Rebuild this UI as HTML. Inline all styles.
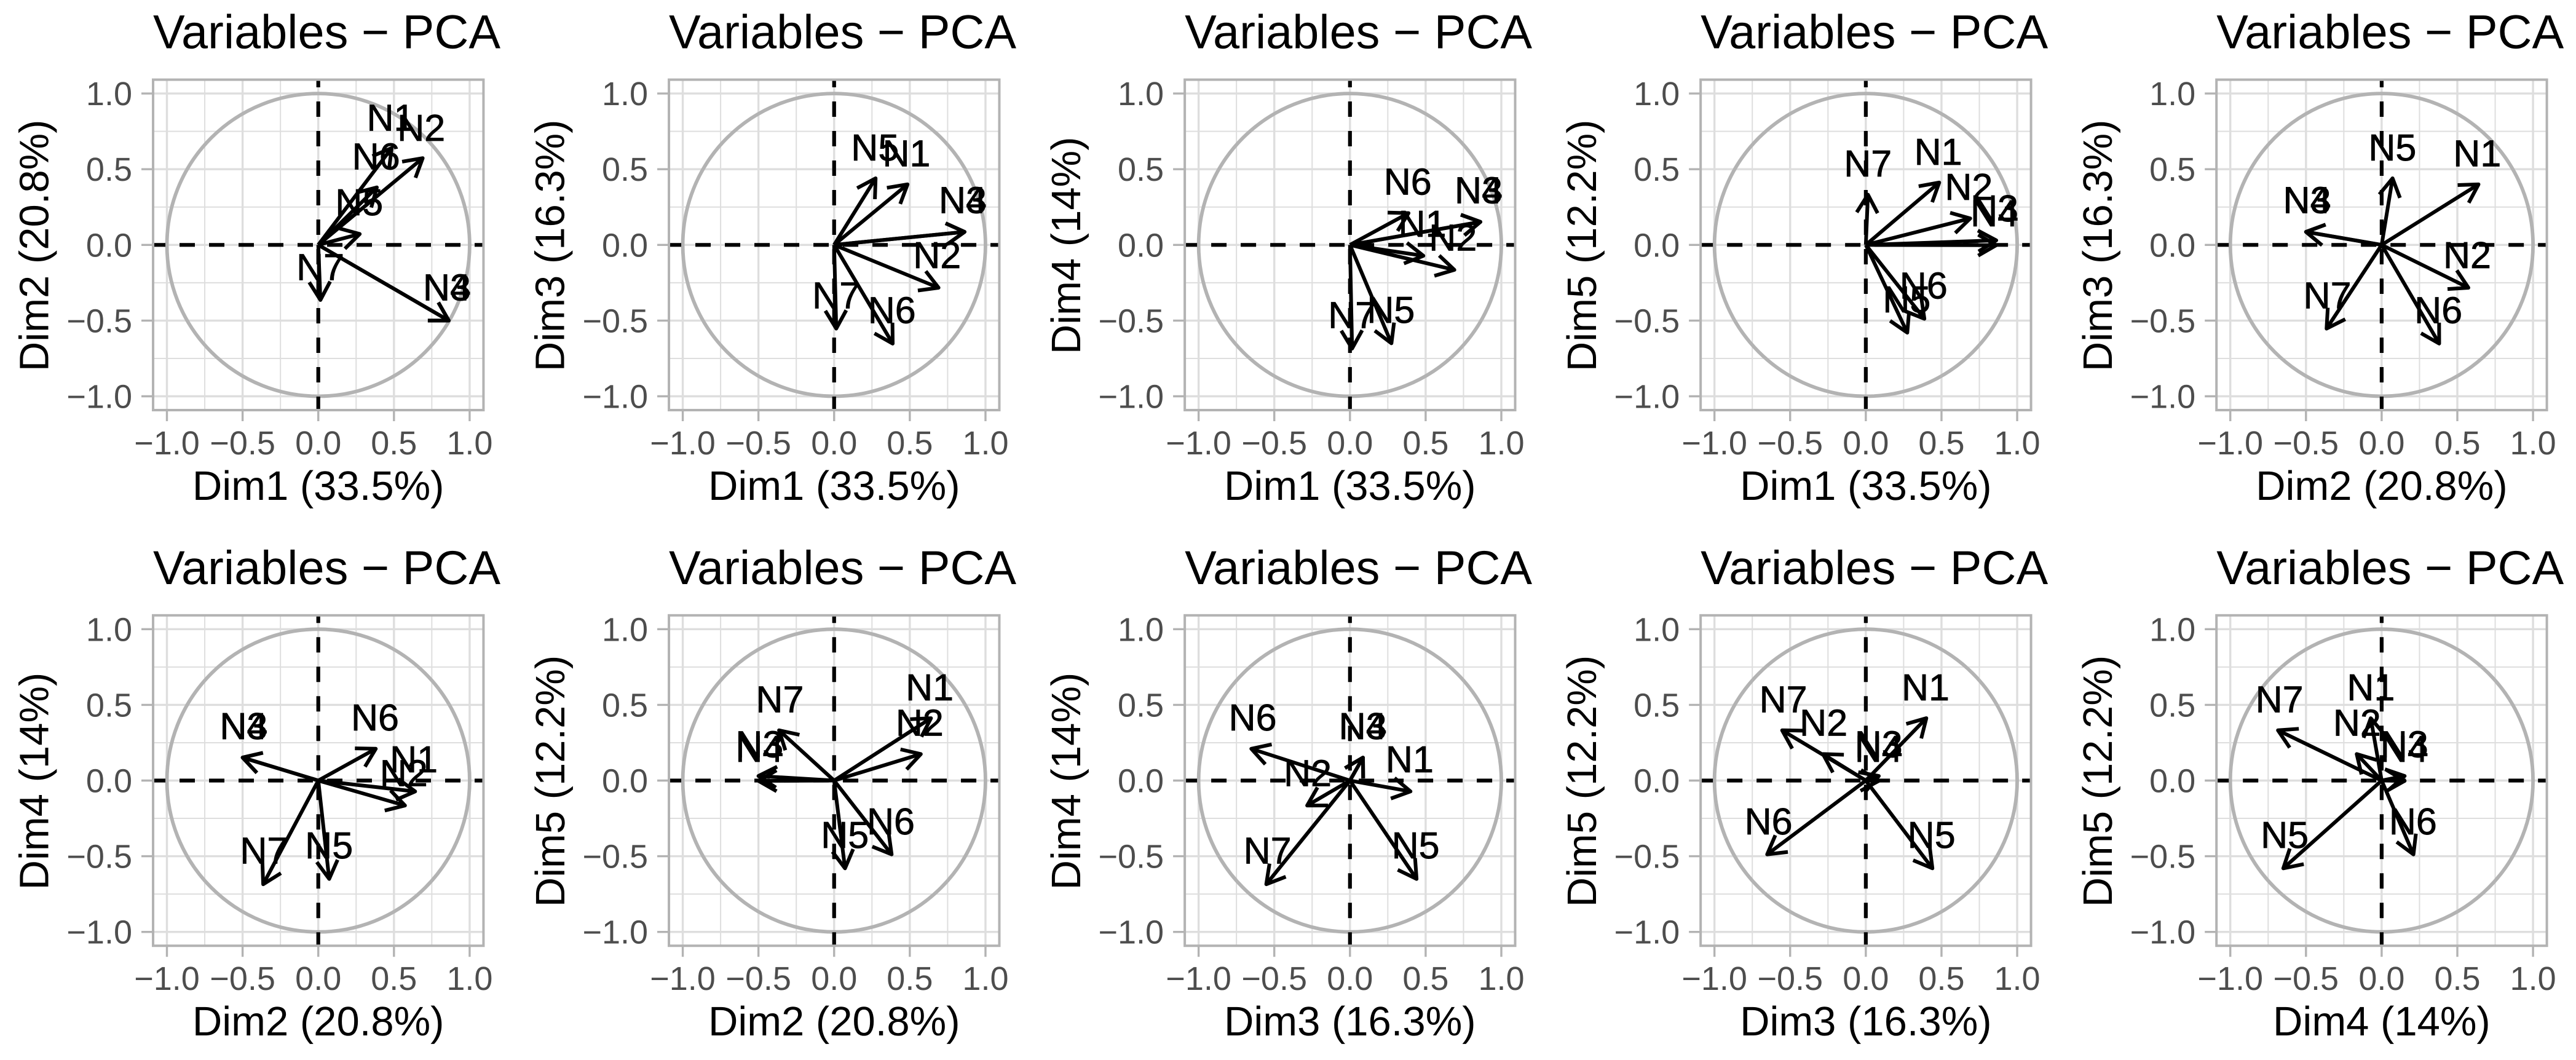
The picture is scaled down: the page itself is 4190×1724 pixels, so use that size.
<!DOCTYPE html>
<html lang="en">
<head>
<meta charset="utf-8">
<title>Variables - PCA</title>
<style>
html,body{margin:0;padding:0;background:#fff;}
svg{display:block;}
text{font-family:"Liberation Sans",Arial,sans-serif;text-rendering:geometricPrecision;}
</style>
</head>
<body>
<svg id="chart" xmlns="http://www.w3.org/2000/svg" width="4190" height="1724" viewBox="0 0 4190 1724"></svg>
<script>
// Data
const variableNames = ["N1", "N2", "N3", "N4", "N5", "N6", "N7"];
const dim1 = [0.485, 0.690, 0.862, 0.862, 0.274, 0.387, 0.014];
const dim2 = [0.640, 0.573, -0.500, -0.500, 0.072, 0.380, -0.364];
const dim3 = [0.400, -0.283, 0.086, 0.086, 0.440, -0.652, -0.553];
const dim4 = [-0.072, -0.165, 0.152, 0.152, -0.650, 0.210, -0.685];
const dim5 = [0.412, 0.175, 0.030, -0.002, -0.580, -0.488, 0.332];
const dimLabels = ["Dim1 (33.5%)", "Dim2 (20.8%)", "Dim3 (16.3%)", "Dim4 (14%)", "Dim5 (12.2%)"];
const panelX = [0, 0, 0, 0, 1, 1, 1, 2, 2, 3];
const panelY = [1, 2, 3, 4, 2, 3, 4, 3, 4, 4];
const tickValues = [-1, -0.5, 0, 0.5, 1];
const tickLabels = ["\u22121.0", "\u22120.5", "0.0", "0.5", "1.0"];
const minorValues = [-0.75, -0.25, 0.25, 0.75];
const panelTitle = "Variables \u2212 PCA";

// Layout
const dims = [dim1, dim2, dim3, dim4, dim5];
const svg = document.getElementById("chart");
const NS = "http://www.w3.org/2000/svg";
const COL0 = 517.7, COLSTEP = 839.05, ROW_Y = [398.3, 1269.5], UNIT = 246.2, HALF = 268.7;

function make(parent, tag, attrs, txt) {
  const el = document.createElementNS(NS, tag);
  for (const k in attrs) el.setAttribute(k, attrs[k]);
  if (txt !== undefined) el.textContent = txt;
  parent.appendChild(el);
  return el;
}
function xAxis(cx, v) { return cx + v * UNIT; }
function yAxis(cy, v) { return cy - v * UNIT; }

for (let p = 0; p < panelX.length; p++) {
  const cx = COL0 + (p % 5) * COLSTEP;
  const rowIdx = Math.floor(p / 5);
  const cy = ROW_Y[rowIdx];
  const xs = dims[panelX[p]];
  const ys = dims[panelY[p]];
  const left = cx - HALF, right = cx + HALF, top = cy - HALF, bottom = cy + HALF;
  const clipId = "clip-" + p;

  const g = make(svg, "g", {});
  
  

  const defs = make(g, "defs", {});
  const cp = make(defs, "clipPath", {id: clipId});
  make(cp, "rect", {x: left, y: top, width: right - left, height: bottom - top});

  // Grid
  const grid = make(g, "g", {stroke: "#dedede", fill: "none"});
  
  
  minorValues.forEach(v => {
    const vLine = make(grid, "line", {x1: xAxis(cx, v), x2: xAxis(cx, v), y1: top, y2: bottom, "stroke-width": 2});
    
    
    const hLine = make(grid, "line", {x1: left, x2: right, y1: yAxis(cy, v), y2: yAxis(cy, v), "stroke-width": 2});
    
    
  });
  tickValues.forEach(v => {
    const vLine = make(grid, "line", {x1: xAxis(cx, v), x2: xAxis(cx, v), y1: top, y2: bottom, "stroke-width": 3.4});
    
    
    const hLine = make(grid, "line", {x1: left, x2: right, y1: yAxis(cy, v), y2: yAxis(cy, v), "stroke-width": 3.4});
    
    
  });

  // Correlation circle
  const circle = make(g, "circle", {cx: cx, cy: cy, r: UNIT, fill: "none", stroke: "#b3b3b3", "stroke-width": 5.8});
  
  

  // Zero reference lines
  const zero = make(g, "g", {stroke: "#000", "stroke-width": 6.2, "stroke-dasharray": "25 23", "clip-path": "url(#" + clipId + ")"});
  
  
  const hz = make(zero, "line", {x1: cx - 273.7, x2: right, y1: cy, y2: cy});
  
  
  const vz = make(zero, "line", {x1: cx, x2: cx, y1: cy + 271.7, y2: top});
  
  

  // Arrows
  variableNames.forEach((name, i) => {
    const x = xAxis(cx, xs[i]), y = yAxis(cy, ys[i]);
    const ang = Math.atan2(y - cy, x - cx);
    const b = 34, a = Math.PI / 6;
    const arrow = make(g, "g", {stroke: "#000", "stroke-width": 6, fill: "none"});
    
    
    make(arrow, "line", {x1: cx, y1: cy, x2: x, y2: y});
    const pts = [
      [x - b * Math.cos(ang - a), y - b * Math.sin(ang - a)],
      [x, y],
      [x - b * Math.cos(ang + a), y - b * Math.sin(ang + a)]
    ].map(q => q.join(",")).join(" ");
    make(arrow, "polyline", {points: pts, "stroke-linejoin": "round"});
  });

  // Variable labels
  variableNames.forEach((name, i) => {
    const lx = xAxis(cx, xs[i] * 0.986);
    const ly = yAxis(cy, ys[i] * 0.983) - 30.8;
    const label = make(g, "text", {x: lx, y: ly, "text-anchor": "middle", "font-size": 61, fill: "#000", stroke: "#000", "stroke-width": 0.8}, name);
    
    
  });

  // Panel border
  const border = make(g, "rect", {x: left, y: top, width: right - left, height: bottom - top, fill: "none", stroke: "#b3b3b3", "stroke-width": 4});
  
  

  // Ticks and tick labels
  tickValues.forEach((v, i) => {
    const tx = make(g, "line", {x1: xAxis(cx, v), x2: xAxis(cx, v), y1: bottom, y2: bottom + 18, stroke: "#b3b3b3", "stroke-width": 3.4});
    
    
    const ty = make(g, "line", {x1: left - 19, x2: left, y1: yAxis(cy, v), y2: yAxis(cy, v), stroke: "#b3b3b3", "stroke-width": 3.4});
    
    
    const xl = make(g, "text", {x: xAxis(cx, v), y: bottom + 72, "text-anchor": "middle", "font-size": 54, fill: "#4d4d4d"}, tickLabels[i]);
    
    
    const yl = make(g, "text", {x: left - 34, y: yAxis(cy, v) + 19, "text-anchor": "end", "font-size": 54, fill: "#4d4d4d"}, tickLabels[i]);
    
    
  });

  // Titles
  const title = make(g, "text", {x: left, y: cy - 319.7, "font-size": 77.5, fill: "#000"}, panelTitle);
  
  

  const xTitle = make(g, "text", {x: cx, y: bottom + 146, "text-anchor": "middle", "font-size": 67, fill: "#000"}, dimLabels[panelX[p]]);
  
  

  const tyCx = cx - 439, tyCy = cy + 1;
  const yTitle = make(g, "text", {x: tyCx, y: tyCy, "text-anchor": "middle", "font-size": 67, fill: "#000", transform: "rotate(-90 " + tyCx + " " + tyCy + ")"}, dimLabels[panelY[p]]);
  
  
}
</script>
</body>
</html>
